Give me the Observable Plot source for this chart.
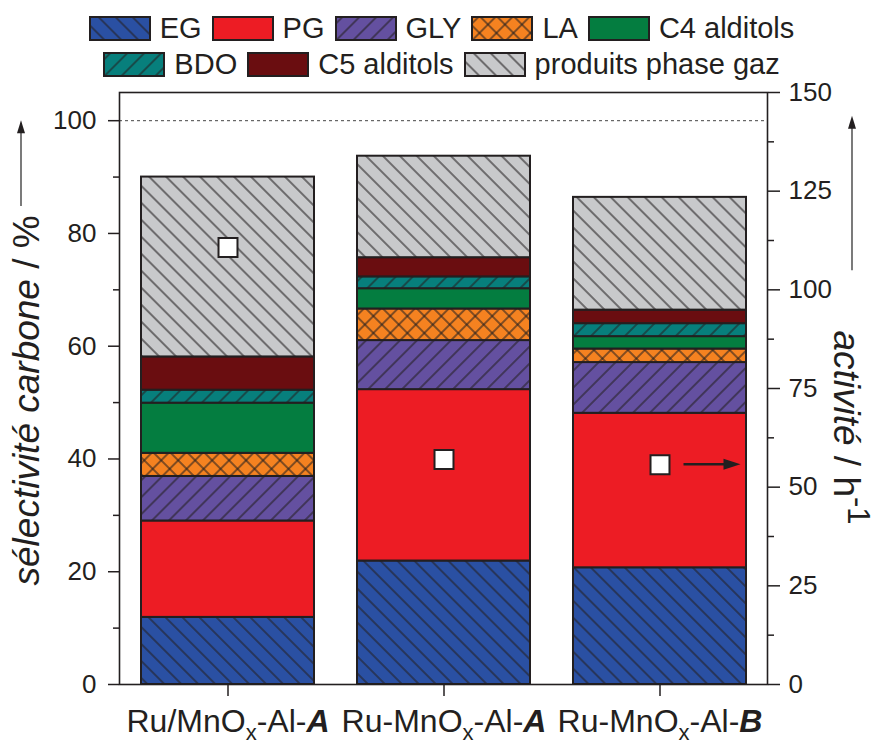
<!DOCTYPE html>
<html><head><meta charset="utf-8">
<script src="https://cdn.jsdelivr.net/npm/d3@7"></script>
<script src="https://cdn.jsdelivr.net/npm/@observablehq/plot@0.6"></script>
<style>
body{margin:0;background:#fff;font-family:"Liberation Sans",Arial,sans-serif;color:#231f20;}
#legend{height:70px;box-sizing:border-box;padding-top:15px;width:883px;}
.row{display:flex;justify-content:center;align-items:center;height:26px;margin-bottom:10px;font-size:29px;line-height:26px;}
.item{display:flex;align-items:center;margin:0 5px;}
.item svg{margin-right:9px;display:block;}
</style></head><body>
<div id="legend"></div>
<div id="chart"></div>
<script>
const categories = ["Ru/MnOx-Al-A", "Ru-MnOx-Al-A", "Ru-MnOx-Al-B"];
const products = ["EG", "PG", "GLY", "LA", "C4 alditols", "BDO", "C5 alditols", "produits phase gaz"];
const EG  = [11.9, 21.9, 20.7];
const PG  = [17.1, 30.4, 27.4];
const GLY = [7.9, 8.7, 9.0];
const LA  = [4.1, 5.6, 2.4];
const C4  = [8.9, 3.6, 2.2];
const BDO = [2.3, 2.1, 2.3];
const C5  = [5.9, 3.4, 2.4];
const GAS = [31.9, 18.0, 20.0];
const activity = [110.7, 57.0, 55.7];
const leftTicks = [0, 20, 40, 60, 80, 100];
const leftMinor = [10, 30, 50, 70, 90];
const rightTicks = [0, 25, 50, 75, 100, 125, 150];
const rightMinor = [12.5, 37.5, 62.5, 87.5, 112.5, 137.5];
const legendRows = [[0, 1, 2, 3, 4], [5, 6, 7]];
const colors = ["#2a50a3", "#ed1c24", "#6450a0", "#f58220", "#047d40", "#077f7c", "#6a0d10", "#c8c9cb"];
const hatches = ["\\", null, "/", "x", null, "/", null, "\\"];

const series = [EG, PG, GLY, LA, C4, BDO, C5, GAS];
const fills = products.map((p, i) => hatches[i] ? `url(#pat${i})` : colors[i]);
const rows = categories.flatMap((c, ci) => series.map((arr, si) => ({cat: c, product: products[si], value: arr[ci], fill: fills[si]})));
const k = 105 / 150;
const actRows = categories.map((c, i) => ({cat: c, y: activity[i] * k}));
const ink = "#231f20";

const chart = Plot.plot({
  width: 883, height: 674,
  marginTop: 22, marginBottom: 60, marginLeft: 119, marginRight: 116,
  style: {fontFamily: "'Liberation Sans', Arial, sans-serif", fontSize: "26px", color: ink, background: "white", overflow: "visible"},
  x: {domain: categories, paddingInner: 0.2, paddingOuter: 0.1, axis: null},
  y: {domain: [0, 105], axis: null},
  color: {type: "identity"},
  marks: [
    Plot.barY(rows, {x: "cat", y: "value", fill: "fill", stroke: ink, strokeWidth: 2}),
    Plot.ruleY([100], {stroke: "#444", strokeDasharray: "3,3", strokeWidth: 1}),
    Plot.dot(actRows, {x: "cat", y: "y", symbol: "square", r: 10.7, fill: "white", stroke: ink, strokeWidth: 2}),
    Plot.frame({stroke: ink, strokeWidth: 1.6}),
    Plot.axisY(leftTicks, {anchor: "left", tickSize: 11, tickPadding: 12, fontSize: 26, label: null, strokeWidth: 1.5}),
    Plot.axisY(leftMinor, {anchor: "left", tickSize: 6, tickFormat: () => "", label: null, strokeWidth: 1.5}),
    Plot.axisY(rightTicks.map(v => v * k), {anchor: "right", tickSize: 12, tickPadding: 9, fontSize: 26, tickFormat: d => String(Math.round(d / k)), label: null, strokeWidth: 1.5}),
    Plot.axisY(rightMinor.map(v => v * k), {anchor: "right", tickSize: 6, tickFormat: () => "", label: null, strokeWidth: 1.5}),
    Plot.axisX({anchor: "bottom", tickSize: 12, tickPadding: 13, fontSize: 32, label: null, strokeWidth: 1.5})
  ]
});

// patterns
const svg = d3.select(chart);
const defs = svg.insert("defs", ":first-child");
products.forEach((p, i) => {
  const h = hatches[i];
  if (!h) return;
  const pat = defs.append("pattern").attr("id", `pat${i}`).attr("patternUnits", "userSpaceOnUse")
    .attr("width", 12).attr("height", 12)
    .attr("patternTransform", h === "\\" ? "rotate(-45)" : "rotate(45)");
  pat.append("rect").attr("width", 12).attr("height", 12).attr("fill", colors[i]);
  pat.append("line").attr("x1", 6).attr("y1", 0).attr("x2", 6).attr("y2", 12).attr("stroke", ink).attr("stroke-width", 1.1);
  if (h === "x") pat.append("line").attr("x1", 0).attr("y1", 6).attr("x2", 12).attr("y2", 6).attr("stroke", ink).attr("stroke-width", 1.1);
});

// x tick labels with subscript and bold italic letter
svg.selectAll('g[aria-label="x-axis tick label"] text').each(function() {
  const t = this.textContent;
  const m = t.match(/^(.*MnO)x(-Al-)(.)$/);
  if (!m) return;
  const s = d3.select(this);
  s.text("");
  s.append("tspan").text(m[1]);
  s.append("tspan").attr("font-size", 22).attr("dy", 8).text("x");
  s.append("tspan").attr("dy", -8).text(m[2]);
  s.append("tspan").attr("font-weight", "bold").attr("font-style", "italic").text(m[3]);
});

const xS = chart.scale("x"), yS = chart.scale("y");
const bw = xS.bandwidth;
const ann = svg.append("g").attr("fill", ink);

// axis titles
const lt = ann.append("text").attr("font-size", 37).attr("text-anchor", "middle")
  .attr("transform", `translate(39,${yS.apply(50.3)}) rotate(-90)`);
lt.append("tspan").attr("font-style", "italic").text("sélectivité carbone");
lt.append("tspan").text(" / %");
const rt = ann.append("text").attr("font-size", 37).attr("text-anchor", "middle")
  .attr("transform", `translate(834,${yS.apply(45.5)}) rotate(90)`);
rt.append("tspan").attr("font-style", "italic").text("activité");
rt.append("tspan").text(" / h");
rt.append("tspan").attr("font-size", 31).attr("dy", -14).text("-1");

// arrows beside axis titles
function vArrow(x, yTop, yBot) {
  ann.append("line").attr("x1", x).attr("x2", x).attr("y1", yBot).attr("y2", yTop + 10).attr("stroke", "#333").attr("stroke-width", 1.3);
  ann.append("path").attr("d", `M${x},${yTop}L${x - 4},${yTop + 13}L${x + 4},${yTop + 13}Z`).attr("fill", "#231f20");
}
vArrow(21, yS.apply(100), yS.apply(84.8));
vArrow(852, yS.apply(100.8), yS.apply(73.4));

// arrow pointing to right axis in third bar
const cx3 = xS.apply(categories[2]) + bw / 2;
const ya = yS.apply(activity[2] * k);
ann.append("line").attr("x1", cx3 + 24).attr("x2", cx3 + 66).attr("y1", ya).attr("y2", ya).attr("stroke", ink).attr("stroke-width", 2.5);
ann.append("path").attr("d", `M${cx3 + 81},${ya}L${cx3 + 64},${ya - 5.5}L${cx3 + 64},${ya + 5.5}Z`).attr("fill", ink);

document.getElementById("chart").appendChild(chart);

// legend
const leg = d3.select("#legend");
legendRows.forEach(r => {
  const row = leg.append("div").attr("class", "row");
  r.forEach(i => {
    const it = row.append("div").attr("class", "item");
    const s = it.append("svg").attr("width", 62).attr("height", 25);
    s.append("rect").attr("x", 1).attr("y", 1).attr("width", 60).attr("height", 23)
      .attr("fill", fills[i]).attr("stroke", ink).attr("stroke-width", 2);
    it.append("span").text(products[i]);
  });
});
</script>
</body></html>
